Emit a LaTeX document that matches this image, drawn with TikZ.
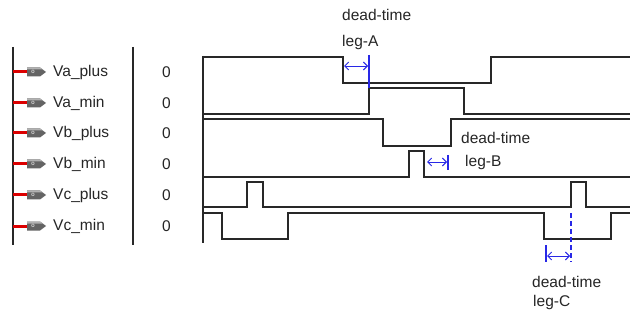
\documentclass[tikz,border=0pt]{standalone}
\usepackage{fontspec}
\setmainfont{Liberation Sans}
\usetikzlibrary{arrows.meta}
\definecolor{wave}{RGB}{40,40,40}
\definecolor{dtblue}{RGB}{40,40,230}
\definecolor{portred}{RGB}{220,0,0}
\definecolor{portgrey}{RGB}{100,100,100}
\tikzset{
  wavef/.style={draw=wave, line width=1.6pt},
  axisline/.style={draw=wave, line width=1.6pt},
  lbl/.style={font=\fontsize{15.5}{17}\selectfont, anchor=west, inner sep=0pt, text=black!85},
  dtarrow/.style={draw=dtblue, line width=0.9pt, {Straight Barb[length=4pt,width=8pt]}-{Straight Barb[length=4pt,width=8pt]}},
  dttick/.style={draw=dtblue, line width=1.1pt},
}
\begin{document}
\begin{tikzpicture}[x=1pt,y=-1pt]
\useasboundingbox (0,0) rectangle (636,320);
\fill[white] (0,0) rectangle (636,320);
% left panel lines
\draw[axisline] (13,47) -- (13,245);
\draw[axisline] (133,47) -- (133,245);
% ports and names
\foreach \nm/\yy [count=\i] in {Va\_plus/72,Va\_min/103,Vb\_plus/133,Vb\_min/164,Vc\_plus/195,Vc\_min/226}{
  \draw[portred, line width=3pt] (13,\yy) -- (28,\yy);
  \fill[portgrey] (27,\yy-4.5) -- (40,\yy-4.5) -- (46,\yy) -- (40,\yy+4.5) -- (27,\yy+4.5) -- cycle;
  \fill[black!30] (27,\yy-4.5) -- (40,\yy-4.5) -- (42.5,\yy-2.5) -- (27,\yy-2.5) -- cycle;
  \node[font=\fontsize{6}{6}\selectfont, text=white, inner sep=0pt] (ic\i) at (33,\yy) {o};
  \node[lbl] (name\i) at (53,\yy) {\nm};
  \node[lbl] (val\i) at (162,\yy) {0};
}
% waveform axis
\draw[axisline] (203,56) -- (203,243);
% waveforms
\draw[wavef] (203,57) -- (343,57) -- (343,83) -- (491,83) -- (491,57) -- (630,57);
\draw[wavef] (203,114) -- (369,114) -- (369,88) -- (464,88) -- (464,114) -- (630,114);
\draw[wavef] (203,119) -- (383,119) -- (383,146) -- (451,146) -- (451,119) -- (630,119);
\draw[wavef] (203,177) -- (409,177) -- (409,151) -- (424,151) -- (424,177) -- (630,177);
\draw[wavef] (203,207) -- (247,207) -- (247,182) -- (263,182) -- (263,207) -- (571,207) -- (571,182) -- (586,182) -- (586,207) -- (630,207);
\draw[wavef] (203,213) -- (222,213) -- (222,239) -- (288,239) -- (288,213) -- (544,213) -- (544,239) -- (611,239) -- (611,213) -- (630,213);
% dead-time leg-A
\coordinate (a1) at (344,66);
\coordinate (a2) at (368,66);
\draw[dttick] (369,55) -- (369,88);
\draw[dtarrow] (a1) -- (a2);
\node[lbl] (dtA) at (342,15) {dead-time};
\node[lbl] (legA) at (342,42) {leg-A};
% dead-time leg-B
\coordinate (b1) at (427,162);
\coordinate (b2) at (447,162);
\draw[dttick] (448,155) -- (448,170);
\draw[dtarrow] (b1) -- (b2);
\node[lbl] (dtB) at (461,138) {dead-time};
\node[lbl] (legB) at (465,162) {leg-B};
% dead-time leg-C
\coordinate (c1) at (547,256);
\coordinate (c2) at (570,256);
\draw[dttick] (546,245) -- (546,262);
\draw[dttick, dashed, dash pattern=on 5pt off 3pt] (571,213) -- (571,262);
\draw[dtarrow] (c1) -- (c2);
\node[lbl] (dtC) at (532,282) {dead-time};
\node[lbl] (legC) at (533,302) {leg-C};
\end{tikzpicture}
\end{document}
